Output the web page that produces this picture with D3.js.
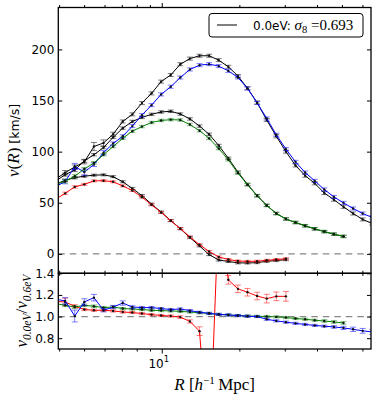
<!DOCTYPE html>
<html>
<head>
<meta charset="utf-8">
<script src="https://cdn.jsdelivr.net/npm/d3@7"></script>
<style>
  body { margin: 0; background: #fff; }
  svg { display: block; }
  .tick text { font-family: "DejaVu Sans", sans-serif; font-size: 12px; fill: #000; }
  .math { font-family: "Liberation Serif", "DejaVu Serif", serif; }
</style>
</head>
<body>
<div id="chart"></div>
<script>
// bin centres in h^-1 Mpc (shared by every run)
const R = [3.873, 4.220, 4.598, 5.009, 5.458, 5.946, 6.478, 7.058, 7.690, 8.378,
  9.128, 9.945, 10.835, 11.805, 12.861, 14.012, 15.266, 16.633, 18.121, 19.743,
  21.510, 23.436, 25.533, 27.818, 30.308, 33.021, 35.977, 39.197, 42.705, 46.527,
  50.692, 55.229, 60.172, 65.558];

// v(R) in km/s, 0.0eV runs (black) and their 0.6eV partners
const v00High = [73, 79.5, 85, 90, 105, 108.5, 117, 129.5, 136.5, 147.5, 157, 168.5, 175, 185.5,
  191, 193.8, 193.8, 189.5, 183, 174, 162, 148, 131, 115, 100, 86.5, 76.5, 69, 59.5, 53, 46, 39.5, 33.7, 29.7];
const v06High = [66, 70.5, 85.5, 80, 87.5, 99, 108, 115, 125, 135.7, 145.5, 156, 163.5, 172.5,
  180.4, 184.6, 185.6, 183.7, 179, 172.6, 161.8, 147.7, 132.5, 116.5, 102.5, 90, 79.6, 71.4, 63, 55.7, 49.9, 44.4, 39.5, 35.6];
const v00Mid = [71, 77.5, 82, 91, 97, 104, 114, 123, 129.5, 133.5, 136.5, 138.8, 139.5, 136.8,
  132, 125, 117, 106, 93.5, 80, 68, 57, 47.5, 39.5, 34.2, 30.6, 27.4, 24.4, 21.7, 19.2, 17];
const v06Mid = [68, 71, 76, 83, 89, 97, 105, 113, 120, 124.5, 128.5, 130.5, 131.3, 131,
  126.5, 120.5, 113, 103, 92, 79, 67.5, 56.8, 47.3, 39.5, 34.1, 30.8, 27.6, 24.6, 21.9, 19.4, 17.2];
const v00Low = [68, 72, 74.5, 76, 77, 77.3, 75.5, 70.5, 64, 57, 48.7, 40.9, 32.6, 24.6,
  15.9, 7.8, -0.7, -6, -7.4, -8.8, -8.9, -8.6, -7.3, -6.5, -5.7];
const v06Low = [53.3, 59.2, 65.5, 68, 71.4, 71.6, 70.5, 66.5, 62, 55.5, 48, 40.5, 32.5, 24.7,
  16.6, 9, 2.3, -3, -5.5, -7, -7.3, -7.2, -6.3, -5.5, -4.8];

// error bars (km/s)
const e00High = [2, 2, 2, 2, 4, 3, 2, 1.5, 1.5, 1.5, 1.5, 1.5, 1.5, 1.5, 1.5, 1.5, 1.5,
  1.5, 1.5, 1.5, 1.5, 1.5, 1.5, 1.5, 1.5, 1.5, 1.5, 1.5, 1.5, 1.5, 1.5, 1.5, 1.5, 1.5];
const e06High = [2, 2, 3, 3, 2, 2, 1.5, 1.5, 1.5, 1.5, 1.5, 1.5, 1.5, 1.5, 1.5, 1.5, 1.5,
  1.5, 1.5, 1.5, 1.5, 1.5, 1.5, 1.5, 1.5, 1.5, 1.5, 1.5, 1.5, 1.5, 1.5, 1.5, 1.5, 1.5];
const e00Mid = [1.5, 1.5, 1.5, 1.5, 1.2, 1.2, 1.2, 1.2, 1.2, 1.2, 1.2, 1.2, 1.2, 1.2, 1.2, 1.2,
  1.2, 1.2, 1.2, 1.2, 1.2, 1.2, 1.2, 1.2, 1.2, 1.2, 1.2, 1.2, 1.2, 1.2, 1.2];
const e06Mid = [1.5, 1.5, 1.5, 1.5, 1.2, 1.2, 1.2, 1.2, 1.2, 1.2, 1.2, 1.2, 1.2, 1.2, 1.2, 1.2,
  1.2, 1.2, 1.2, 1.2, 1.2, 1.2, 1.2, 1.2, 1.2, 1.2, 1.2, 1.2, 1.2, 1.2, 1.2];
const e00Low = [1.2, 1.2, 1.2, 1, 1, 1, 1, 1, 1, 1, 1, 1, 1, 1, 1, 1, 1, 1, 1, 1, 1, 1, 1, 1, 1];
const e06Low = [1.2, 1.2, 1.2, 1, 1, 1, 1, 1, 1, 1, 1, 1, 1, 1, 1, 1, 1, 1, 1, 1, 1, 1, 1, 1, 1];

// ratio v_0.0eV / v_0.6eV
const ratioBlue = [1.16, 1.145, 1.005, 1.135, 1.175, 1.058, 1.088, 1.125, 1.088, 1.083, 1.083,
  1.074, 1.065, 1.07, 1.055, 1.04, 1.03, 1.02, 1.015, 1.009, 1.003, 1.0, 0.975, 0.96, 0.948,
  0.937, 0.927, 0.918, 0.911, 0.904, 0.895, 0.882, 0.868, 0.858];
const ratioGreen = [1.12, 1.104, 1.088, 1.104, 1.095, 1.083, 1.088, 1.074, 1.07, 1.065, 1.058,
  1.055, 1.052, 1.048, 1.042, 1.035, 1.028, 1.02, 1.015, 1.01, 1.005, 1.002, 1.0, 0.997, 0.991,
  0.982, 0.975, 0.966, 0.959, 0.95, 0.941];
const ratioRed = [1.14, 1.135, 1.095, 1.065, 1.058, 1.058, 1.052, 1.042, 1.037, 1.028, 1.018,
  1.01, 1.005, 0.995, 0.955, 0.865, -0.3, 2.0, 1.34, 1.256, 1.225, 1.19, 1.166, 1.187, 1.187];
const errRatioBlue = [0.03, 0.03, 0.055, 0.03, 0.03, 0.015, 0.015, 0.02, 0.012, 0.01, 0.01,
  0.01, 0.01, 0.01, 0.01, 0.01, 0.01, 0.01, 0.01, 0.01, 0.01, 0.01, 0.01, 0.01, 0.01,
  0.01, 0.01, 0.01, 0.01, 0.012, 0.015, 0.02, 0.022, 0.025];
const errRatioGreen = [0.015, 0.012, 0.012, 0.012, 0.012, 0.01, 0.01, 0.01, 0.01, 0.01, 0.01,
  0.01, 0.01, 0.01, 0.01, 0.01, 0.01, 0.01, 0.01, 0.01, 0.01, 0.01, 0.01, 0.01, 0.01,
  0.01, 0.01, 0.01, 0.012, 0.012, 0.012];
const errRatioRed = [0.035, 0.035, 0.015, 0.01, 0.01, 0.01, 0.01, 0.01, 0.01, 0.01, 0.01,
  0.01, 0.01, 0.012, 0.015, 0.04, 0.2, 0.3, 0.04, 0.035, 0.035, 0.035, 0.04, 0.04, 0.045];

const topTicks = [0, 50, 100, 150, 200];
const ratioTicks = [0.8, 1.0, 1.2, 1.4];
const minorR = [4, 5, 6, 7, 8, 9, 20, 30, 40, 50, 60];
const legendLabel = "0.0eV: ";
const legendSigma = "0.693";

const width = 379, height = 402;
const left = 58.3, right = 371;

const svg = d3.select("#chart").append("svg")
  .attr("width", width)
  .attr("height", height);

const x = d3.scaleLog().domain([3.97, 64.8]).range([left, right]);
const yTop = d3.scaleLinear().domain([-19, 241]).range([273.3, 7.5]);
const yBot = d3.scaleLinear().domain([0.7, 1.4]).range([349, 273.3]);

// clip paths for both panels
const defs = svg.append("defs");
defs.append("clipPath").attr("id", "clipTop").append("rect")
  .attr("x", left).attr("y", yTop.range()[1])
  .attr("width", right - left).attr("height", yTop.range()[0] - yTop.range()[1]);
defs.append("clipPath").attr("id", "clipBot").append("rect")
  .attr("x", left).attr("y", yBot.range()[1])
  .attr("width", right - left).attr("height", yBot.range()[0] - yBot.range()[1]);

function drawSeries(g, y, vals, errs, color) {
  const pts = vals.map((v, i) => ({ r: R[i], v: v, e: errs[i] }));
  const line = d3.line().x(d => x(d.r)).y(d => y(d.v));
  g.append("path")
    .datum(pts)
    .attr("d", line)
    .attr("fill", "none")
    .attr("stroke", color)
    .attr("stroke-width", 1);

  const eb = g.append("g")
    .attr("stroke", color)
    .attr("stroke-opacity", 0.5)
    .attr("stroke-width", 1);
  eb.selectAll("line.bar").data(pts).enter().append("line")
    .attr("x1", d => x(d.r)).attr("x2", d => x(d.r))
    .attr("y1", d => y(d.v - d.e)).attr("y2", d => y(d.v + d.e));
  eb.selectAll("line.capLo").data(pts).enter().append("line")
    .attr("x1", d => x(d.r) - 3).attr("x2", d => x(d.r) + 3)
    .attr("y1", d => y(d.v - d.e)).attr("y2", d => y(d.v - d.e));
  eb.selectAll("line.capHi").data(pts).enter().append("line")
    .attr("x1", d => x(d.r) - 3).attr("x2", d => x(d.r) + 3)
    .attr("y1", d => y(d.v + d.e)).attr("y2", d => y(d.v + d.e));

  g.append("g").selectAll("circle").data(pts).enter().append("circle")
    .attr("cx", d => x(d.r))
    .attr("cy", d => y(d.v))
    .attr("r", 1.2)
    .attr("fill", "#111");
}

// ---------- top panel ----------
const gTop = svg.append("g").attr("clip-path", "url(#clipTop)");
gTop.append("line")
  .attr("x1", left).attr("x2", right)
  .attr("y1", yTop(0)).attr("y2", yTop(0))
  .attr("stroke", "#888").attr("stroke-width", 1.3)
  .attr("stroke-dasharray", "6.5,5");

drawSeries(gTop, yTop, v00High, e00High, "#000");
drawSeries(gTop, yTop, v00Mid, e00Mid, "#000");
drawSeries(gTop, yTop, v00Low, e00Low, "#000");
drawSeries(gTop, yTop, v06High, e06High, "#0000ff");
drawSeries(gTop, yTop, v06Mid, e06Mid, "#008000");
drawSeries(gTop, yTop, v06Low, e06Low, "#ff0000");

// ---------- bottom panel ----------
const gBot = svg.append("g").attr("clip-path", "url(#clipBot)");
gBot.append("line")
  .attr("x1", left).attr("x2", right)
  .attr("y1", yBot(1)).attr("y2", yBot(1))
  .attr("stroke", "#888").attr("stroke-width", 1.3)
  .attr("stroke-dasharray", "6.5,5");

drawSeries(gBot, yBot, ratioRed, errRatioRed, "#ff0000");
drawSeries(gBot, yBot, ratioGreen, errRatioGreen, "#008000");
drawSeries(gBot, yBot, ratioBlue, errRatioBlue, "#0000ff");

// ---------- axes ----------
function yAxes(y, ticks, fmt) {
  svg.append("g")
    .attr("transform", `translate(${left},0)`)
    .call(d3.axisLeft(y).tickValues(ticks).tickFormat(fmt).tickSizeInner(-4).tickSizeOuter(0).tickPadding(4))
    .call(g => g.select(".domain").remove());
  svg.append("g")
    .attr("transform", `translate(${right},0)`)
    .call(d3.axisRight(y).tickValues(ticks).tickFormat("").tickSizeInner(-4).tickSizeOuter(0))
    .call(g => g.select(".domain").remove());
}
yAxes(yTop, topTicks, d3.format("d"));
yAxes(yBot, ratioTicks, d3.format(".1f"));

function xTicks(yPos, dir) {
  const axis = dir > 0 ? d3.axisTop : d3.axisBottom;
  svg.append("g")
    .attr("transform", `translate(0,${yPos})`)
    .call(axis(x).tickValues(minorR).tickFormat("").tickSizeInner(-2.5).tickSizeOuter(0))
    .call(g => g.select(".domain").remove());
  svg.append("g")
    .attr("transform", `translate(0,${yPos})`)
    .call(axis(x).tickValues([10]).tickFormat("").tickSizeInner(-4.5).tickSizeOuter(0))
    .call(g => g.select(".domain").remove());
}
xTicks(yTop.range()[1], -1);
xTicks(yTop.range()[0], 1);
xTicks(yBot.range()[1], -1);
xTicks(yBot.range()[0], 1);

// frames
[[yTop.range()[1], yTop.range()[0]], [yBot.range()[1], yBot.range()[0]]].forEach(([t, b]) => {
  svg.append("rect")
    .attr("x", left).attr("y", t)
    .attr("width", right - left).attr("height", b - t)
    .attr("fill", "none").attr("stroke", "#000").attr("stroke-width", 1.3);
});

// x tick label 10^1
const xl = svg.append("text")
  .attr("x", x(10) - 3).attr("y", 368.3)
  .attr("text-anchor", "middle")
  .style("font-family", "DejaVu Sans, sans-serif")
  .style("font-size", "12px");
xl.append("tspan").text("10");
xl.append("tspan").attr("dy", -6).style("font-size", "8.5px").text("1");

// x label
const xlab = svg.append("text")
  .attr("class", "math")
  .attr("x", (left + right) / 2).attr("y", 390)
  .attr("text-anchor", "middle")
  .style("font-size", "17px");
xlab.append("tspan").style("font-style", "italic").text("R");
xlab.append("tspan").text(" [");
xlab.append("tspan").style("font-style", "italic").text("h");
xlab.append("tspan").attr("dy", -6).style("font-size", "11px").text("\u22121");
xlab.append("tspan").attr("dy", 6).text("\u2009Mpc]");

// y label top
const ylab = svg.append("text")
  .attr("transform", `translate(19,${(yTop.range()[0] + yTop.range()[1]) / 2}) rotate(-90)`)
  .attr("text-anchor", "middle");
ylab.append("tspan").attr("class", "math").style("font-size", "17px").style("font-style", "italic").text("v");
ylab.append("tspan").attr("class", "math").style("font-size", "17px").text("(");
ylab.append("tspan").attr("class", "math").style("font-size", "17px").style("font-style", "italic").text("R");
ylab.append("tspan").attr("class", "math").style("font-size", "17px").text(")");
ylab.append("tspan")
  .style("font-family", "DejaVu Sans, sans-serif").style("font-size", "12.5px")
  .text(" [km/s]");

// y label bottom
const ylab2 = svg.append("text")
  .attr("class", "math")
  .attr("transform", `translate(27,${(yBot.range()[0] + yBot.range()[1]) / 2}) rotate(-90)`)
  .attr("text-anchor", "middle")
  .style("font-size", "17px");
ylab2.append("tspan").style("font-style", "italic").text("v");
ylab2.append("tspan").attr("dy", 4).style("font-size", "11.5px").style("font-style", "italic").text("0.0eV");
ylab2.append("tspan").attr("dy", -4).text("/");
ylab2.append("tspan").style("font-style", "italic").text("v");
ylab2.append("tspan").attr("dy", 4).style("font-size", "11.5px").style("font-style", "italic").text("0.6eV");

// legend
const leg = svg.append("g");
leg.append("rect")
  .attr("x", 209).attr("y", 13.5).attr("width", 154).attr("height", 23.5)
  .attr("rx", 3).attr("fill", "#fff").attr("stroke", "#000").attr("stroke-width", 1);
leg.append("line")
  .attr("x1", 217).attr("x2", 237).attr("y1", 25).attr("y2", 25)
  .attr("stroke", "#000").attr("stroke-width", 1);
const lt = leg.append("text").attr("x", 253).attr("y", 29.5);
lt.append("tspan").style("font-family", "DejaVu Sans, sans-serif").style("font-size", "12px").text(legendLabel);
lt.append("tspan").attr("class", "math").style("font-size", "15px").style("font-style", "italic").text("\u03c3");
lt.append("tspan").attr("class", "math").attr("dy", 3).style("font-size", "10.5px").text("8");
lt.append("tspan").attr("class", "math").attr("dy", -3).style("font-size", "15px").text(" =" + legendSigma);
</script>
</body>
</html>
